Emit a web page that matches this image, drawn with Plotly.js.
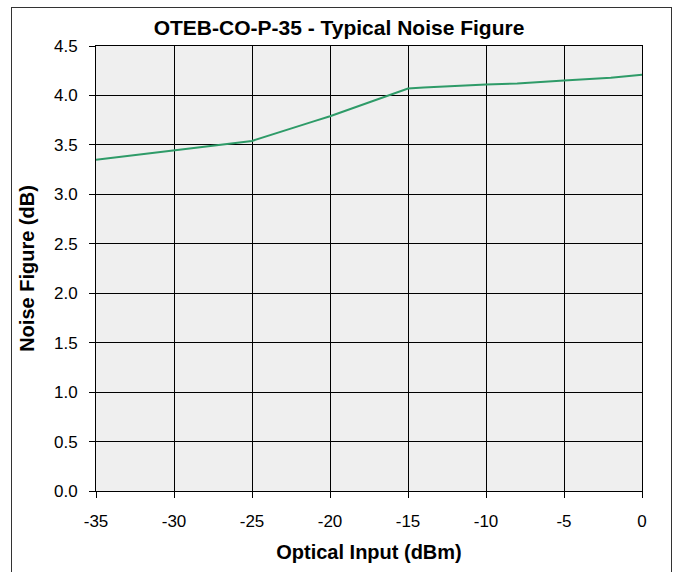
<!DOCTYPE html>
<html>
<head>
<meta charset="utf-8">
<script src="https://cdn.plot.ly/plotly-3.0.1.min.js"></script>
<style>
html,body{margin:0;padding:0;background:#fff;}
#chart{width:678px;height:572px;position:absolute;left:0;top:0;}
#frame{position:absolute;left:11px;top:7px;width:659px;height:620px;border:1.5px solid #333;pointer-events:none;}
</style>
</head>
<body>
<div id="chart"></div>
<div id="frame"></div>
<script>
const opticalInput = [-35, -29, -25, -21, -20, -15, -14, -10, -8, -5, -2, 0];
const noiseFigure  = [3.35, 3.46, 3.54, 3.74, 3.79, 4.07, 4.08, 4.11, 4.12, 4.15, 4.18, 4.21];
const xTicks = [-35, -30, -25, -20, -15, -10, -5, 0];
const yTicks = [0, 0.5, 1.0, 1.5, 2.0, 2.5, 3.0, 3.5, 4.0, 4.5];

const font = {family: 'Liberation Sans, Arial, sans-serif', color: '#000'};

Plotly.newPlot('chart', [{
  x: opticalInput, y: noiseFigure, type: 'scatter', mode: 'lines',
  line: {color: '#2e9b68', width: 2}, hoverinfo: 'skip'
}], {
  width: 678, height: 572,
  margin: {l: 96, r: 36, t: 46, b: 81},
  paper_bgcolor: 'rgba(0,0,0,0)',
  plot_bgcolor: '#efefef',
  showlegend: false,
  title: {text: '<b>OTEB-CO-P-35 - Typical Noise Figure</b>', x: 0.5, xanchor: 'center', y: 0.951, yanchor: 'middle',
          font: Object.assign({}, font, {size: 21})},
  xaxis: {
    range: [-35, 0], tickvals: xTicks, ticktext: xTicks.map(String),
    showgrid: true, gridcolor: '#000', gridwidth: 1,
    zeroline: false, showline: true, linecolor: '#000', linewidth: 1, mirror: true,
    ticks: 'outside', ticklen: 6, tickcolor: '#000', ticklabelstandoff: 9,
    tickfont: Object.assign({}, font, {size: 17}),
    title: {text: '<b>Optical Input (dBm)</b>', font: Object.assign({}, font, {size: 20}), standoff: 14}
  },
  yaxis: {
    range: [0, 4.5], tickvals: yTicks, ticktext: yTicks.map(v => v.toFixed(1)),
    showgrid: true, gridcolor: '#000', gridwidth: 1,
    zeroline: false, showline: true, linecolor: '#000', linewidth: 1, mirror: true,
    ticks: 'outside', ticklen: 6, tickcolor: '#000', ticklabelstandoff: 8,
    tickfont: Object.assign({}, font, {size: 17}),
    title: {text: '<b>Noise Figure (dB)</b>', font: Object.assign({}, font, {size: 20}), standoff: 13}
  }
}, {staticPlot: true, displayModeBar: false});
</script>
</body>
</html>
